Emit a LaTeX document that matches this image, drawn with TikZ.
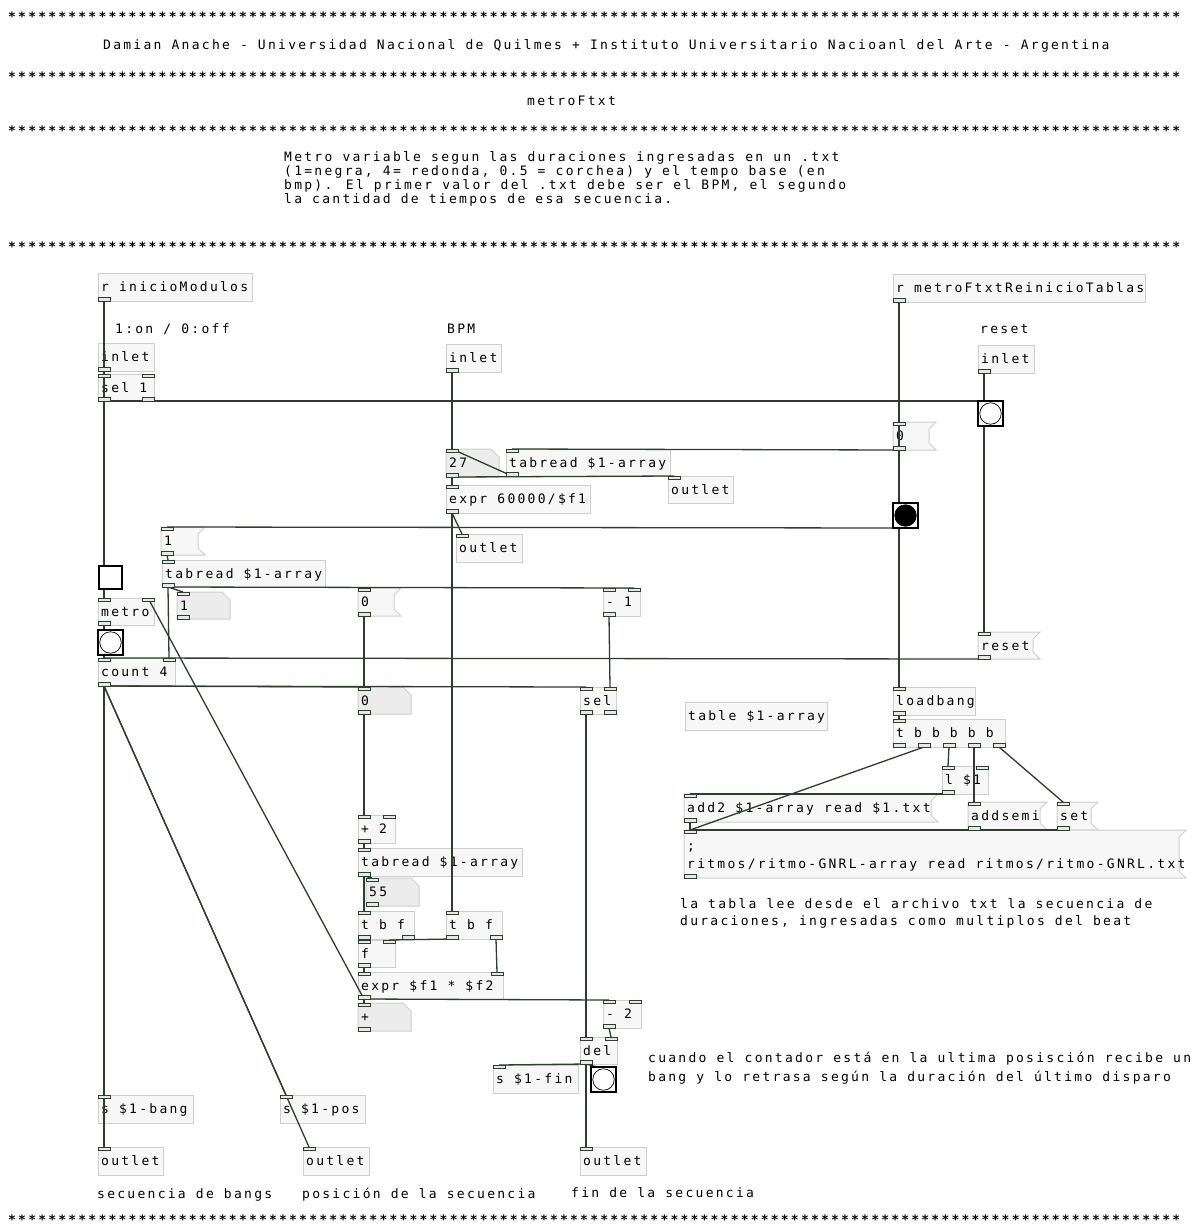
\documentclass[tikz,border=0pt]{standalone}
\usepackage{fontspec}
\newfontfamily\pdfont[LetterSpace=17.5]{DejaVu Sans Mono}
\newfontfamily\pdstarfont[LetterSpace=17]{DejaVu Sans Mono Bold}
\definecolor{wire}{RGB}{44,62,44}
\definecolor{boxline}{RGB}{206,206,206}
\definecolor{boxfill}{RGB}{247,247,247}
\definecolor{atomfill}{RGB}{236,236,236}
\definecolor{portfill}{RGB}{228,234,228}
\pgfdeclarelayer{wires}
\pgfdeclarelayer{ports}
\pgfsetlayers{main,wires,ports}
\tikzset{
 pdtxt/.style={font=\pdfont\fontsize{13}{14}\selectfont, inner sep=0pt, anchor=base west, text=black},
 pdstar/.style={font=\pdstarfont\fontsize{13}{14}\selectfont, inner sep=0pt, anchor=base west, text=black},
 pdbox/.style={draw=boxline, fill=boxfill, line width=1pt},
 pdatombox/.style={draw=boxline, fill=atomfill, line width=1pt},
 port/.style={draw=wire, fill=portfill, line width=0.9pt},
 wirestyle/.style={draw=wire, line width=1.3pt},
 bangbox/.style={draw=black, fill=white, line width=1.8pt},
}
\newcommand\pdstarsA{**********}
\newcommand\pdstars{\pdstarsA\pdstarsA\pdstarsA\pdstarsA\pdstarsA\pdstarsA\pdstarsA\pdstarsA\pdstarsA\pdstarsA\pdstarsA*******}
% #1 prefix #2 x #3 y of rect #4 w #5 n #6 y of coordinate
\newcommand\pdrow[6]{%
  \pgfmathtruncatemacro\pdlast{#5-1}%
  \foreach \k in {0,...,\pdlast}{%
    \ifnum#5=1 \pgfmathsetmacro\px{#2}\else\pgfmathsetmacro\px{#2+\k*(#4-12)/(#5-1)}\fi
    \coordinate (#1\k) at (\px+6,#6);
    \begin{pgfonlayer}{ports}\path[port] (\px,#3) rectangle (\px+12,#3+3.5);\end{pgfonlayer}
  }}
% #1 name #2 x #3 y #4 w #5 h #6 nin #7 nout
\newcommand\pdports[7]{%
  \ifnum#6>0 \pdrow{#1-i}{#2}{#3}{#4}{#6}{#3}\fi
  \ifnum#7>0 \pdrow{#1-o}{#2}{#3+#5-3.5}{#4}{#7}{#3+#5}\fi}
% name x y w h text nin nout
\newcommand\pdobj[8]{%
  \path[pdbox] (#2,#3) rectangle ++(#4,#5);
  \node[pdtxt] (#1) at (#2+3,#3+#5/2+4.5) {#6};
  \pdports{#1}{#2}{#3}{#4}{#5}{#7}{#8}}
\newcommand\pdmsg[8]{%
  \path[pdbox] (#2,#3) -- ++(#4,0) -- ++(-7,7) -- ++(0,#5-14) -- ++(7,7) -- ++(-#4,0) -- cycle;
  \node[pdtxt] (#1) at (#2+3,#3+#5/2+4.5) {#6};
  \pdports{#1}{#2}{#3}{#4}{#5}{#7}{#8}}
\newcommand\pdatom[6]{%
  \path[pdatombox] (#2,#3) -- ++(#4-8,0) -- ++(8,8) -- ++(0,#5-8) -- ++(-#4,0) -- cycle;
  \node[pdtxt] (#1) at (#2+3,#3+#5/2+4.5) {#6};
  \pdports{#1}{#2}{#3}{#4}{#5}{1}{1}}
\newcommand\pdbang[4]{%
  \begin{pgfonlayer}{ports}
  \path[bangbox] (#2,#3) rectangle ++(25,25);
  \node[circle, draw=black, line width=0.7pt, fill=#4, minimum size=21.5pt, inner sep=0pt] (#1) at (#2+12.5,#3+12.5) {};
  \end{pgfonlayer}
  \coordinate (#1-i0) at (#2+6,#3);
  \coordinate (#1-o0) at (#2+6,#3+25);}
\newcommand\pdtgl[3]{%
  \begin{pgfonlayer}{ports}
  \node[draw=black, line width=1.8pt, fill=white, minimum size=23.2pt, inner sep=0pt] (#1) at (#2+12.5,#3+12.5) {};
  \end{pgfonlayer}
  \coordinate (#1-i0) at (#2+6,#3);
  \coordinate (#1-o0) at (#2+6,#3+25);}
\begin{document}
\begin{tikzpicture}[x=1pt,y=-1pt]
\fill[white] (0,0) rectangle (1198,1226);
\useasboundingbox (0,0) rectangle (1198,1226);

% header rows and comments
\node[pdstar] (stars1) at (8,21) {\pdstars};
\node[pdstar] (stars2) at (8,81) {\pdstars};
\node[pdstar] (stars3) at (8,135) {\pdstars};
\node[pdstar] (stars4) at (8,251) {\pdstars};
\node[pdstar] (stars5) at (8,1224) {\pdstars};
\node[pdtxt] (head) at (103,49.5) {Damian Anache - Universidad Nacional de Quilmes + Instituto Universitario Nacioanl del Arte - Argentina};
\node[pdtxt] (title) at (527,105.5) {metroFtxt};
\node[pdtxt] (para1) at (284,161) {Metro variable segun las duraciones ingresadas en un .txt};
\node[pdtxt] (para2) at (284,175) {(1=negra, 4= redonda, 0.5 = corchea) y el tempo base (en};
\node[pdtxt] (para3) at (284,189) {bmp). El primer valor del .txt debe ser el BPM, el segundo};
\node[pdtxt] (para4) at (284,203) {la cantidad de tiempos de esa secuencia.};
\node[pdtxt] (conoff) at (115,333.5) {1:on / 0:off};
\node[pdtxt] (cbpm) at (447,333.5) {BPM};
\node[pdtxt] (creset) at (980,333.5) {reset};
\node[pdtxt] (ctab1) at (680,908) {la tabla lee desde el archivo txt la secuencia de};
\node[pdtxt] (ctab2) at (680,925) {duraciones, ingresadas como multiplos del beat};
\node[pdtxt] (ccont1) at (648,1062.5) {cuando el contador está en la ultima posisción recibe un};
\node[pdtxt] (ccont2) at (648,1081.5) {bang y lo retrasa según la duración del último disparo};
\node[pdtxt] (cbangs) at (97,1198.5) {secuencia de bangs};
\node[pdtxt] (cpos) at (302,1198.5) {posición de la secuencia};
\node[pdtxt] (cfin) at (571,1197.5) {fin de la secuencia};

% objects
\pdobj{rinicio}{98}{273}{154}{28}{r inicioModulos}{0}{1}
\pdobj{inletL}{98}{343}{56}{28}{inlet}{0}{1}
\pdobj{sel1}{98}{374}{56}{27}{sel 1}{2}{2}
\pdobj{inletB}{446}{344}{55}{28}{inlet}{0}{1}
\pdobj{rmetro}{893}{274}{252}{28}{r metroFtxtReinicioTablas}{0}{1}
\pdobj{inletR}{978}{345}{56}{28}{inlet}{0}{1}
\pdbang{bangR}{978}{401}{white}
\pdmsg{msg0R}{893}{422}{43}{28}{0}{1}{1}
\pdatom{num27}{446}{449}{53}{28}{27}
\pdobj{tabT}{506}{449}{164}{27}{tabread \$1-array}{1}{1}
\pdobj{outT}{668}{476}{65}{27}{outlet}{1}{0}
\pdobj{expr1}{446}{485}{144}{28}{expr 60000/\$f1}{1}{1}
\pdobj{outE}{456}{534}{66}{28}{outlet}{1}{0}
\pdbang{bangB}{893}{503}{black}
\pdmsg{msg1}{161}{527}{44}{28}{1}{1}{1}
\pdtgl{tgl}{98}{565}
\pdobj{tabL}{162}{560}{163}{27}{tabread \$1-array}{1}{1}
\pdobj{metro}{98}{598}{56}{27}{metro}{2}{1}
\pdatom{atom1}{177}{592}{53}{27}{1}
\pdmsg{msg0M}{358}{588}{43}{28}{0}{1}{1}
\pdobj{minus1}{603}{588}{37}{28}{- 1}{2}{1}
\pdbang{bangM}{98}{630}{white}
\pdobj{count}{98}{658}{77}{28}{count 4}{2}{1}
\pdmsg{msgReset}{978}{632}{62}{27}{reset}{1}{1}
\pdatom{atom0}{358}{687}{53}{27}{0}
\pdobj{sel}{580}{687}{36}{27}{sel}{2}{2}
\pdobj{loadbang}{893}{687}{82}{28}{loadbang}{1}{1}
\pdobj{table}{685}{702}{142}{28}{table \$1-array}{0}{0}
\pdobj{tbb}{893}{719}{112}{28}{t b b b b b}{1}{5}
\pdobj{l1}{942}{766}{46}{28}{l \$1}{2}{1}
\pdmsg{msgAdd2}{684}{794}{254}{28}{add2 \$1-array read \$1.txt}{1}{1}
\pdmsg{msgAddsemi}{968}{802}{79}{28}{addsemi}{1}{1}
\pdmsg{msgSet}{1057}{802}{41}{28}{set}{1}{1}
% big message box
\path[pdbox] (684,830) -- ++(502,0) -- ++(-7,7) -- ++(0,34) -- ++(7,7) -- ++(-502,0) -- cycle;
\node[pdtxt] (msgBig) at (687,850) {;};
\node[pdtxt] (msgBigB) at (687,868) {ritmos/ritmo-GNRL-array read ritmos/ritmo-GNRL.txt};
\pdports{msgBig}{684}{830}{502}{48}{1}{1}
\pdobj{plus2}{358}{815}{37}{28}{+ 2}{2}{1}
\pdobj{tabLow}{358}{848}{164}{28}{tabread \$1-array}{1}{1}
\pdatom{atom55}{366}{878}{53}{28}{55}
\pdobj{tbfL}{358}{911}{56}{28}{t b f}{1}{2}
\pdobj{tbfR}{446}{911}{56}{28}{t b f}{1}{2}
\pdobj{fobj}{358}{940}{37}{27}{f}{2}{1}
\pdobj{expr2}{358}{972}{145}{27}{expr \$f1 * \$f2}{2}{1}
\pdatom{atomPlus}{358}{1003}{53}{28}{+}
\pdobj{minus2}{603}{1000}{38}{28}{- 2}{2}{1}
\pdobj{del}{580}{1037}{37}{27}{del}{2}{1}
\pdobj{sfin}{493}{1065}{85}{28}{s \$1-fin}{1}{0}
\pdbang{bangD}{591}{1067}{white}
\pdobj{sbang}{98}{1095}{95}{28}{s \$1-bang}{1}{0}
\pdobj{spos}{280}{1095}{85}{28}{s \$1-pos}{1}{0}
\pdobj{outL}{98}{1147}{65}{28}{outlet}{1}{0}
\pdobj{outM}{303}{1147}{66}{28}{outlet}{1}{0}
\pdobj{outR}{580}{1147}{66}{28}{outlet}{1}{0}

% connections
\begin{pgfonlayer}{wires}
\draw[wirestyle] (rinicio-o0) -- (tgl-i0);
\draw[wirestyle] (inletL-o0) -- (sel1-i0);
\draw[wirestyle] (sel1-o0) -- (bangR-i0);
\draw[wirestyle] (inletB-o0) -- (num27-i0);
\draw[wirestyle] (rmetro-o0) -- (loadbang-i0);
\draw[wirestyle] (inletR-o0) -- (bangR-i0);
\draw[wirestyle] (bangR-o0) -- (msgReset-i0);
\draw[wirestyle] (msg0R-o0) -- (tabT-i0);
\draw[wirestyle] (tabT-o0) -- (num27-i0);
\draw[wirestyle] (num27-o0) -- (outT-i0);
\draw[wirestyle] (num27-o0) -- (expr1-i0);
\draw[wirestyle] (expr1-o0) -- (outE-i0);
\draw[wirestyle] (expr1-o0) -- (tbfR-i0);
\draw[wirestyle] (bangB-o0) -- (msg1-i0);
\draw[wirestyle] (msg1-o0) -- (tabL-i0);
\draw[wirestyle] (tabL-o0) -- (minus1-i1);
\draw[wirestyle] (tabL-o0) -- (atom1-i0);
\draw[wirestyle] (tabL-o0) -- (count-i1);
\draw[wirestyle] (tgl-o0) -- (metro-i0);
\draw[wirestyle] (metro-o0) -- (bangM-i0);
\draw[wirestyle] (bangM-o0) -- (count-i0);
\draw[wirestyle] (msgReset-o0) -- (count-i0);
\draw[wirestyle] (count-o0) -- (sel-i0);
\draw[wirestyle] (count-o0) -- (atom0-i0);
\draw[wirestyle] (count-o0) -- (sbang-i0);
\draw[wirestyle] (count-o0) -- (outL-i0);
\draw[wirestyle] (count-o0) -- (spos-i0);
\draw[wirestyle] (count-o0) -- (outM-i0);
\draw[wirestyle] (msg0M-o0) -- (atom0-i0);
\draw[wirestyle] (atom0-o0) -- (plus2-i0);
\draw[wirestyle] (minus1-o0) -- (sel-i1);
\draw[wirestyle] (sel-o0) -- (del-i0);
\draw[wirestyle] (plus2-o0) -- (tabLow-i0);
\draw[wirestyle] (tabLow-o0) -- (atom55-i0);
\draw[wirestyle] (tabLow-o0) -- (tbfL-i0);
\draw[wirestyle] (tbfL-o0) -- (fobj-i0);
\draw[wirestyle] (tbfR-o0) -- (fobj-i1);
\draw[wirestyle] (tbfR-o1) -- (expr2-i1);
\draw[wirestyle] (fobj-o0) -- (expr2-i0);
\draw[wirestyle] (expr2-o0) -- (minus2-i0);
\draw[wirestyle] (expr2-o0) -- (atomPlus-i0);
\draw[wirestyle] (expr2-o0) -- (metro-i1);
\draw[wirestyle] (minus2-o0) -- (del-i1);
\draw[wirestyle] (del-o0) -- (sfin-i0);
\draw[wirestyle] (del-o0) -- (bangD-i0);
\draw[wirestyle] (del-o0) -- (outR-i0);
\draw[wirestyle] (loadbang-o0) -- (tbb-i0);
\draw[wirestyle] (tbb-o1) -- (msgBig-i0);
\draw[wirestyle] (tbb-o2) -- (l1-i0);
\draw[wirestyle] (tbb-o3) -- (msgAddsemi-i0);
\draw[wirestyle] (tbb-o4) -- (msgSet-i0);
\draw[wirestyle] (l1-o0) -- (msgAdd2-i0);
\draw[wirestyle] (msgAdd2-o0) -- (msgBig-i0);
\draw[wirestyle] (msgAddsemi-o0) -- (msgBig-i0);
\draw[wirestyle] (msgSet-o0) -- (msgBig-i0);
\end{pgfonlayer}
\end{tikzpicture}
\end{document}
